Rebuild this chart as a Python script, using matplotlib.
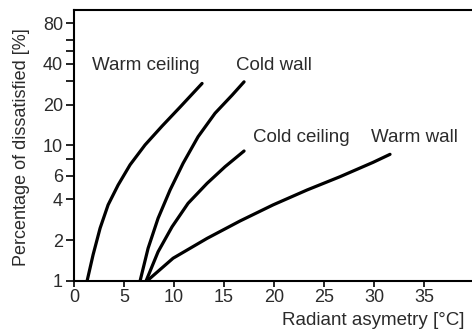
import matplotlib.pyplot as plt
from matplotlib.ticker import FixedLocator, NullFormatter, NullLocator

plt.rcParams['font.family'] = ['Liberation Sans', 'DejaVu Sans']

# percentage dissatisfied vs radiant asymmetry, one curve per surface case
warm_ceiling_x = [1.3, 1.9, 2.6, 3.4, 4.4, 5.6, 7.1, 8.8, 10.6, 12.8]
warm_ceiling_y = [1.0, 1.56, 2.45, 3.64, 5.1, 7.2, 10.1, 13.9, 19.2, 28.7]

cold_wall_x = [6.6, 7.4, 8.4, 9.6, 10.9, 12.4, 14.1, 15.8, 17.0]
cold_wall_y = [1.0, 1.74, 2.9, 4.69, 7.38, 11.6, 17.3, 23.5, 29.5]

cold_ceiling_x = [7.2, 8.4, 9.8, 11.4, 13.3, 15.1, 17.0]
cold_ceiling_y = [1.0, 1.64, 2.51, 3.74, 5.25, 6.97, 9.1]

warm_wall_x = [7.3, 9.9, 13.3, 16.6, 19.9, 23.3, 26.6, 29.9, 31.6]
warm_wall_y = [1.0, 1.47, 2.06, 2.77, 3.64, 4.69, 5.88, 7.5, 8.6]

label_names = ['Warm ceiling', 'Cold wall', 'Cold ceiling', 'Warm wall']
label_x = [7.2, 20.0, 22.7, 34.0]
label_y = [39, 39, 11.5, 11.5]

x_ticks = [0, 5, 10, 15, 20, 25, 30, 35]
y_ticks = [1, 2, 4, 6, 10, 20, 40, 80]
y_extra = [8, 30, 50, 60]

text_color = '#2b2b2b'

fig = plt.figure(figsize=(4.72, 3.34), dpi=100)
ax = fig.add_axes([0.157, 0.159, 0.843, 0.811])

for xs, ys in [(warm_ceiling_x, warm_ceiling_y), (cold_wall_x, cold_wall_y),
               (cold_ceiling_x, cold_ceiling_y), (warm_wall_x, warm_wall_y)]:
    ax.plot(xs, ys, color='black', lw=2.3, solid_capstyle='round',
            solid_joinstyle='round')

for name, x, y in zip(label_names, label_x, label_y):
    ax.text(x, y, name, ha='center', va='center', fontsize=13.5, color=text_color)

ax.set_yscale('log')
ax.set_xlim(0, 39.8)
ax.set_ylim(1, 100)

ax.xaxis.set_major_locator(FixedLocator(x_ticks))
ax.yaxis.set_major_locator(FixedLocator(y_ticks))
ax.yaxis.set_minor_locator(FixedLocator(y_extra))
ax.yaxis.set_minor_formatter(NullFormatter())
ax.xaxis.set_minor_locator(NullLocator())
ax.set_yticklabels([str(t) for t in y_ticks])

ax.tick_params(axis='both', which='both', direction='out', width=1.2,
               labelsize=13, colors='black', labelcolor=text_color)
ax.tick_params(axis='y', which='both', length=6, pad=2)
ax.tick_params(axis='x', length=4, pad=2)

ax.spines['right'].set_visible(False)
for side in ['left', 'bottom', 'top']:
    ax.spines[side].set_linewidth(1.5)

ax.set_xlabel('Radiant asymetry [°C]', fontsize=13.5, color=text_color, ha='right')
ax.xaxis.set_label_coords(0.98, -0.115)
ax.set_ylabel('Percentage of dissatisfied [%]', fontsize=13, color=text_color)
ax.yaxis.set_label_coords(-0.112, 0.495)

fig.savefig('out.png', dpi=100)
